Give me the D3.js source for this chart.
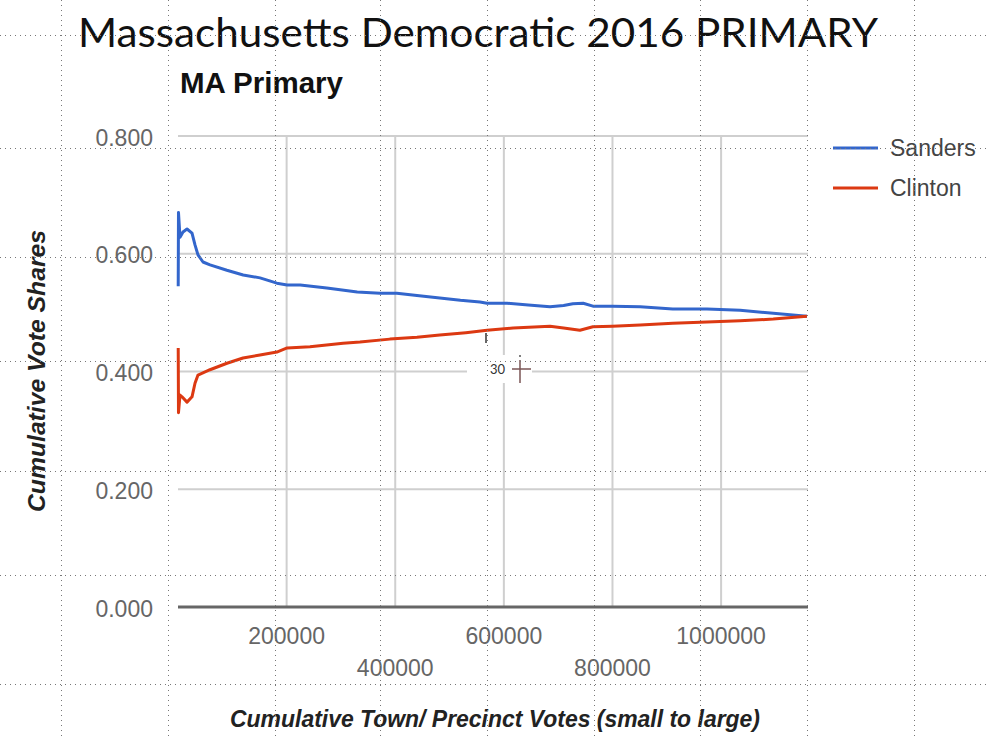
<!DOCTYPE html>
<html>
<head>
<meta charset="utf-8">
<script src="https://cdn.jsdelivr.net/npm/d3@7"></script>
<style>
  html, body { margin: 0; padding: 0; background: #fff; }
  svg { display: block; }
</style>
</head>
<body>
<div id="chart"></div>
<script>
// ---------- DATA ----------
const seriesNames = ["Sanders", "Clinton"];
const seriesColors = ["#3366cc", "#dc3912"];

// cumulative votes (x) and cumulative vote share (y)
const sandersVotes = [400, 900, 3700, 9200, 16600, 25800, 31300, 36800, 46000, 59000, 90000, 120000, 151000, 182000, 201000, 225000, 274000, 330000, 372000, 403000, 440000, 482000, 520000, 556000, 569000, 606000, 645000, 685000, 710000, 727000, 746000, 764000, 800000, 851000, 911000, 974000, 1035000, 1096000, 1158000];
const sandersShare = [0.545, 0.670, 0.628, 0.637, 0.642, 0.635, 0.615, 0.598, 0.586, 0.581, 0.572, 0.564, 0.559, 0.550, 0.547, 0.547, 0.542, 0.535, 0.533, 0.533, 0.529, 0.525, 0.521, 0.518, 0.516, 0.516, 0.513, 0.510, 0.512, 0.515, 0.516, 0.511, 0.511, 0.510, 0.506, 0.506, 0.504, 0.499, 0.494];

const clintonVotes = [400, 900, 3700, 7400, 16600, 25800, 31300, 36800, 58900, 90200, 119700, 151000, 182000, 201000, 243000, 304000, 335000, 390000, 440000, 482000, 530000, 569000, 617000, 685000, 710000, 740000, 764000, 800000, 851000, 911000, 974000, 1035000, 1096000, 1158000];
const clintonShare = [0.440, 0.330, 0.360, 0.357, 0.348, 0.357, 0.380, 0.394, 0.403, 0.414, 0.423, 0.428, 0.433, 0.440, 0.442, 0.448, 0.450, 0.455, 0.458, 0.462, 0.466, 0.470, 0.474, 0.477, 0.474, 0.470, 0.476, 0.477, 0.479, 0.482, 0.484, 0.486, 0.489, 0.494];

const yTicks = [0, 0.2, 0.4, 0.6, 0.8];
const xTicks = [200000, 400000, 600000, 800000, 1000000];

const pageTitle = "Massachusetts Democratic 2016 PRIMARY";
const chartTitle = "MA Primary";
const xTitle = "Cumulative Town/ Precinct Votes (small to large)";
const yTitle = "Cumulative Vote Shares";

// ---------- LAYOUT ----------
const W = 986, H = 738;
const plot = { left: 178, right: 808, top: 136, bottom: 607 };

const svg = d3.select("#chart").append("svg")
  .attr("width", W).attr("height", H);

svg.append("rect").attr("width", W).attr("height", H).attr("fill", "#fff");

const x = d3.scaleLinear().domain([0, 1160000]).range([plot.left, plot.right]);
const y = d3.scaleLinear().domain([0, 0.8]).range([plot.bottom, plot.top]);

// gridlines
const grid = svg.append("g");
grid.selectAll("line.h").data(yTicks.filter(d => d > 0)).join("line")
  .attr("x1", plot.left).attr("x2", plot.right)
  .attr("y1", d => y(d)).attr("y2", d => y(d))
  .attr("stroke", "#cfcfcf").attr("stroke-width", 2);
grid.selectAll("line.v").data(xTicks).join("line")
  .attr("x1", d => x(d)).attr("x2", d => x(d))
  .attr("y1", plot.top).attr("y2", plot.bottom)
  .attr("stroke", "#cfcfcf").attr("stroke-width", 2);

// baseline
svg.append("line")
  .attr("x1", plot.left).attr("x2", plot.right)
  .attr("y1", y(0)).attr("y2", y(0))
  .attr("stroke", "#666").attr("stroke-width", 3);

// y tick labels
svg.append("g").selectAll("text").data(yTicks).join("text")
  .attr("x", 153).attr("y", d => y(d)).attr("dy", "0.42em")
  .attr("text-anchor", "end")
  .attr("font-family", "Liberation Sans, Arial, sans-serif")
  .attr("font-size", 23).attr("fill", "#666")
  .text(d => d3.format(".3f")(d));

// x tick labels (staggered in two rows)
svg.append("g").selectAll("text").data(xTicks).join("text")
  .attr("x", d => x(d))
  .attr("y", (d, i) => i % 2 === 0 ? 644 : 676)
  .attr("text-anchor", "middle")
  .attr("font-family", "Liberation Sans, Arial, sans-serif")
  .attr("font-size", 23).attr("fill", "#666")
  .text(d => d3.format("d")(d));

// lines
const series = [
  { name: seriesNames[0], color: seriesColors[0], xs: sandersVotes, ys: sandersShare },
  { name: seriesNames[1], color: seriesColors[1], xs: clintonVotes, ys: clintonShare }
];
const lineGen = d3.line().x(d => x(d[0])).y(d => y(d[1])).curve(d3.curveLinear);
svg.append("g").selectAll("path").data(series).join("path")
  .attr("d", s => lineGen(s.xs.map((v, i) => [v, s.ys[i]])))
  .attr("fill", "none")
  .attr("stroke", s => s.color)
  .attr("stroke-width", 3)
  .attr("stroke-linejoin", "round");

// legend
const leg = svg.append("g").selectAll("g").data(series).join("g")
  .attr("transform", (d, i) => `translate(833, ${148 + i * 40})`);
leg.append("line").attr("x1", 0).attr("x2", 45).attr("y1", 0).attr("y2", 0)
  .attr("stroke", d => d.color).attr("stroke-width", 3);
leg.append("text").attr("x", 57).attr("y", 0).attr("dy", "0.35em")
  .attr("font-family", "Liberation Sans, Arial, sans-serif")
  .attr("font-size", 23).attr("fill", "#444")
  .text(d => d.name);

// titles
svg.append("text").attr("x", 78).attr("y", 47)
  .attr("font-family", "Lato, 'Open Sans', sans-serif")
  .attr("font-size", 41).attr("fill", "#111")
  .attr("textLength", 800).attr("lengthAdjust", "spacingAndGlyphs")
  .text(pageTitle);

svg.append("text").attr("x", 180).attr("y", 93)
  .attr("font-family", "Liberation Sans, Arial, sans-serif")
  .attr("font-weight", "bold")
  .attr("font-size", 29).attr("fill", "#111")
  .attr("textLength", 163).attr("lengthAdjust", "spacingAndGlyphs")
  .text(chartTitle);

svg.append("text").attr("x", 230).attr("y", 727)
  .attr("font-family", "Liberation Sans, Arial, sans-serif")
  .attr("font-weight", "bold").attr("font-style", "italic")
  .attr("font-size", 24).attr("fill", "#222")
  .attr("textLength", 530).attr("lengthAdjust", "spacingAndGlyphs")
  .text(xTitle);

svg.append("text")
  .attr("transform", "translate(45, 512) rotate(-90)")
  .attr("font-family", "Liberation Sans, Arial, sans-serif")
  .attr("font-weight", "bold").attr("font-style", "italic")
  .attr("font-size", 24).attr("fill", "#222")
  .attr("textLength", 282).attr("lengthAdjust", "spacingAndGlyphs")
  .text(yTitle);

// small screenshot artifact ("30" label with cursor)
const art = svg.append("g");
art.append("rect").attr("x", 467).attr("y", 355).attr("width", 65).attr("height", 28).attr("fill", "#fff");
art.append("line").attr("x1", 486).attr("x2", 486).attr("y1", 333).attr("y2", 343).attr("stroke", "#333").attr("stroke-width", 1.5);
art.append("text").attr("x", 490).attr("y", 374)
  .attr("font-family", "Lato, sans-serif").attr("font-size", 13).attr("fill", "#333").text("30");
art.append("line").attr("x1", 520).attr("x2", 520).attr("y1", 360).attr("y2", 383).attr("stroke", "#7a5555").attr("stroke-width", 1.5);
art.append("line").attr("x1", 512).attr("x2", 531).attr("y1", 369).attr("y2", 369).attr("stroke", "#7a5555").attr("stroke-width", 1.5);
art.append("circle").attr("cx", 520).attr("cy", 356).attr("r", 1).attr("fill", "#555");

// dotted overlay grid (on top of everything)
const overlayX = [61, 168, 275, 380, 487, 594, 700, 807, 914];
const overlayY = [35, 148, 257, 361, 471, 575, 684];
const ov = svg.append("g").attr("stroke", "#777").attr("stroke-width", 1).attr("stroke-dasharray", "1,4");
ov.selectAll("line.ox").data(overlayX).join("line")
  .attr("x1", d => d + 0.5).attr("x2", d => d + 0.5).attr("y1", 0).attr("y2", H);
ov.selectAll("line.oy").data(overlayY).join("line")
  .attr("y1", d => d + 0.5).attr("y2", d => d + 0.5).attr("x1", 0).attr("x2", W);
</script>
</body>
</html>
